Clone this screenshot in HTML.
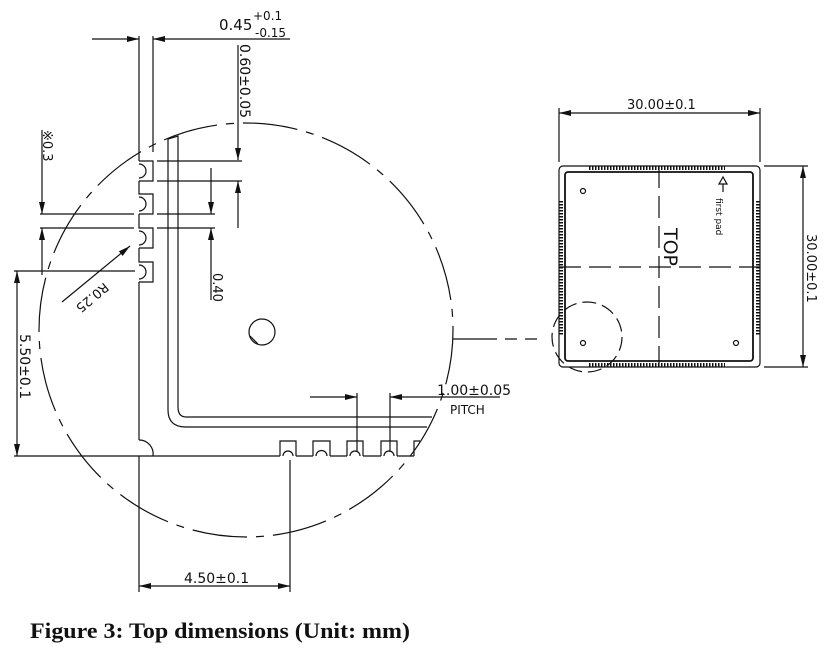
<!DOCTYPE html>
<html><head><meta charset="utf-8"><style>
html,body{margin:0;padding:0;background:#fff;}
svg{display:block;}
text{font-family:"DejaVu Sans","Liberation Sans",sans-serif;fill:#111;}
</style></head><body>
<svg width="830" height="650" viewBox="0 0 830 650" xmlns="http://www.w3.org/2000/svg">
<defs>
<marker id="a" markerWidth="12" markerHeight="6" refX="12" refY="3" orient="auto" markerUnits="userSpaceOnUse"><path d="M0,0 L12,3 L0,6 Z" fill="#111"/></marker>
</defs>
<g stroke="#111" stroke-width="1.2" fill="none">
<line x1="139" y1="36" x2="139" y2="161"/>
<line x1="153" y1="36" x2="153" y2="152"/>
<path d="M139,161 H153 V181 H139 M139,164 A6,6 0 0 1 139,178"/>
<path d="M139,181 V194 H153 V214 H139 M139,197 A6,6 0 0 1 139,211"/>
<path d="M139,214 V228 H153 V248 H139 M139,231 A6,6 0 0 1 139,245"/>
<path d="M139,248 V262 H153 V282 H139 M139,265 A6,6 0 0 1 139,279"/>
<line x1="139" y1="282" x2="139" y2="440"/>
<path d="M139,440 A14,14 0 0 1 153,456"/>
<line x1="139" y1="456" x2="139" y2="592"/>
<path d="M168,139 L178,136 L178,407 Q178,417 186,417 L432,417"/>
<path d="M168,139 L168,410 Q168,427 186,427 L427,427"/>
<line x1="14" y1="456" x2="280" y2="456"/>
<path d="M280,456 V441 H296 V456 M283,456 A5,5 0 0 1 293,456"/>
<path d="M313,456 V441 H330 V456 M316,456 A5.5,5.5 0 0 1 327,456"/>
<path d="M347,456 V441 H363 V456 M350,456 A5,5 0 0 1 360,456"/>
<path d="M381,456 V441 H397 V456 M384,456 A5,5 0 0 1 394,456"/>
<path d="M414,456 V441 H420"/>
<line x1="296" y1="456" x2="313" y2="456"/><line x1="330" y1="456" x2="347" y2="456"/><line x1="363" y1="456" x2="381" y2="456"/><line x1="397" y1="456" x2="414" y2="456"/>
<circle cx="246" cy="330" r="207" stroke-dasharray="55,9,8,9"/>
<circle cx="262" cy="332" r="13"/>
<path d="M250,336 L258,344" />
<line x1="92" y1="39" x2="139" y2="39" marker-end="url(#a)"/>
<line x1="290" y1="39" x2="153" y2="39" marker-end="url(#a)"/>
<line x1="238" y1="45" x2="238" y2="160" marker-end="url(#a)"/>
<line x1="157" y1="161" x2="242" y2="161"/>
<line x1="157" y1="181" x2="242" y2="181"/>
<line x1="238" y1="228" x2="238" y2="181" marker-end="url(#a)"/>
<line x1="211" y1="168" x2="211" y2="214" marker-end="url(#a)"/>
<line x1="211" y1="300" x2="211" y2="228" marker-end="url(#a)"/>
<line x1="40" y1="214" x2="134" y2="214"/><line x1="157" y1="214" x2="215" y2="214"/>
<line x1="40" y1="228" x2="134" y2="228"/><line x1="157" y1="228" x2="215" y2="228"/>
<line x1="42" y1="130" x2="42" y2="214" marker-end="url(#a)"/>
<line x1="42" y1="275" x2="42" y2="228" marker-end="url(#a)"/>
<line x1="62" y1="302" x2="130" y2="246" marker-end="url(#a)"/>
<line x1="14" y1="271" x2="135" y2="271"/>
<line x1="17" y1="360" x2="17" y2="271" marker-end="url(#a)"/>
<line x1="17" y1="360" x2="17" y2="456" marker-end="url(#a)"/>
<line x1="290" y1="460" x2="290" y2="592"/>
<line x1="214" y1="586" x2="139" y2="586" marker-end="url(#a)"/>
<line x1="214" y1="586" x2="290" y2="586" marker-end="url(#a)"/>
<line x1="310" y1="397" x2="357" y2="397" marker-end="url(#a)"/>
<line x1="500" y1="397" x2="390" y2="397" marker-end="url(#a)"/>
<line x1="357" y1="393" x2="357" y2="452"/>
<line x1="390" y1="393" x2="390" y2="452"/>
<line x1="453" y1="339" x2="485" y2="339"/>
<line x1="485" y1="339" x2="545" y2="339" stroke-dasharray="12,8"/>
<line x1="559" y1="108" x2="559" y2="162"/>
<line x1="760" y1="108" x2="760" y2="162"/>
<line x1="660" y1="113" x2="559" y2="113" marker-end="url(#a)"/>
<line x1="660" y1="113" x2="760" y2="113" marker-end="url(#a)"/>
<line x1="764" y1="166" x2="808" y2="166"/>
<line x1="764" y1="367" x2="808" y2="367"/>
<line x1="803" y1="266" x2="803" y2="166" marker-end="url(#a)"/>
<line x1="803" y1="266" x2="803" y2="367" marker-end="url(#a)"/>
<rect x="559" y="166" width="201" height="201" rx="4"/>
<rect x="565" y="172" width="188" height="189" rx="3" stroke-width="1.8"/>
<line x1="589" y1="168" x2="725" y2="168" stroke-width="4" stroke-dasharray="1.5,1.5"/>
<line x1="589" y1="365" x2="725" y2="365" stroke-width="4" stroke-dasharray="1.5,1.5"/>
<line x1="561" y1="201" x2="561" y2="335" stroke-width="4" stroke-dasharray="1.5,1.5"/>
<line x1="758" y1="201" x2="758" y2="335" stroke-width="4" stroke-dasharray="1.5,1.5"/>
<line x1="659" y1="166" x2="659" y2="367" stroke-dasharray="22,8"/>
<line x1="559" y1="267" x2="760" y2="267" stroke-dasharray="22,8"/>
<circle cx="583" cy="191" r="2.5"/><circle cx="583" cy="343" r="2.5"/><circle cx="736" cy="343" r="2.5"/>
<circle cx="587" cy="337" r="35" stroke-dasharray="14,6"/>
<path d="M723,177 L719,184 L727,184 Z"/>
<line x1="723" y1="184" x2="723" y2="192"/>
</g>
<text x="219" y="30" font-size="15">0.45</text>
<text x="253" y="20" font-size="12">+0.1</text>
<text x="255" y="37" font-size="12">-0.15</text>
<text transform="translate(240,44) rotate(90)" font-size="14">0.60±0.05</text>
<text transform="translate(43,130) rotate(90)" font-size="13">※0.3</text>
<text transform="translate(213,273) rotate(90)" font-size="13">0.40</text>
<text transform="translate(104,282) rotate(140)" font-size="13">R0.25</text>
<text transform="translate(20,334) rotate(90)" font-size="14">5.50±0.1</text>
<text x="184" y="583" font-size="14">4.50±0.1</text>
<text x="437" y="395" font-size="14">1.00±0.05</text>
<text x="450" y="414" font-size="12">PITCH</text>
<text x="627" y="109" font-size="13">30.00±0.1</text>
<text transform="translate(807,234) rotate(90)" font-size="13">30.00±0.1</text>
<text transform="translate(664,228) rotate(90)" font-size="19">TOP</text>
<text transform="translate(716,198) rotate(90)" font-size="9">first pad</text>
<text x="30" y="638" font-weight="bold" font-size="22" textLength="380" lengthAdjust="spacingAndGlyphs" style="font-family:'Liberation Serif',serif">Figure 3: Top dimensions (Unit: mm)</text>
</svg>
</body></html>
